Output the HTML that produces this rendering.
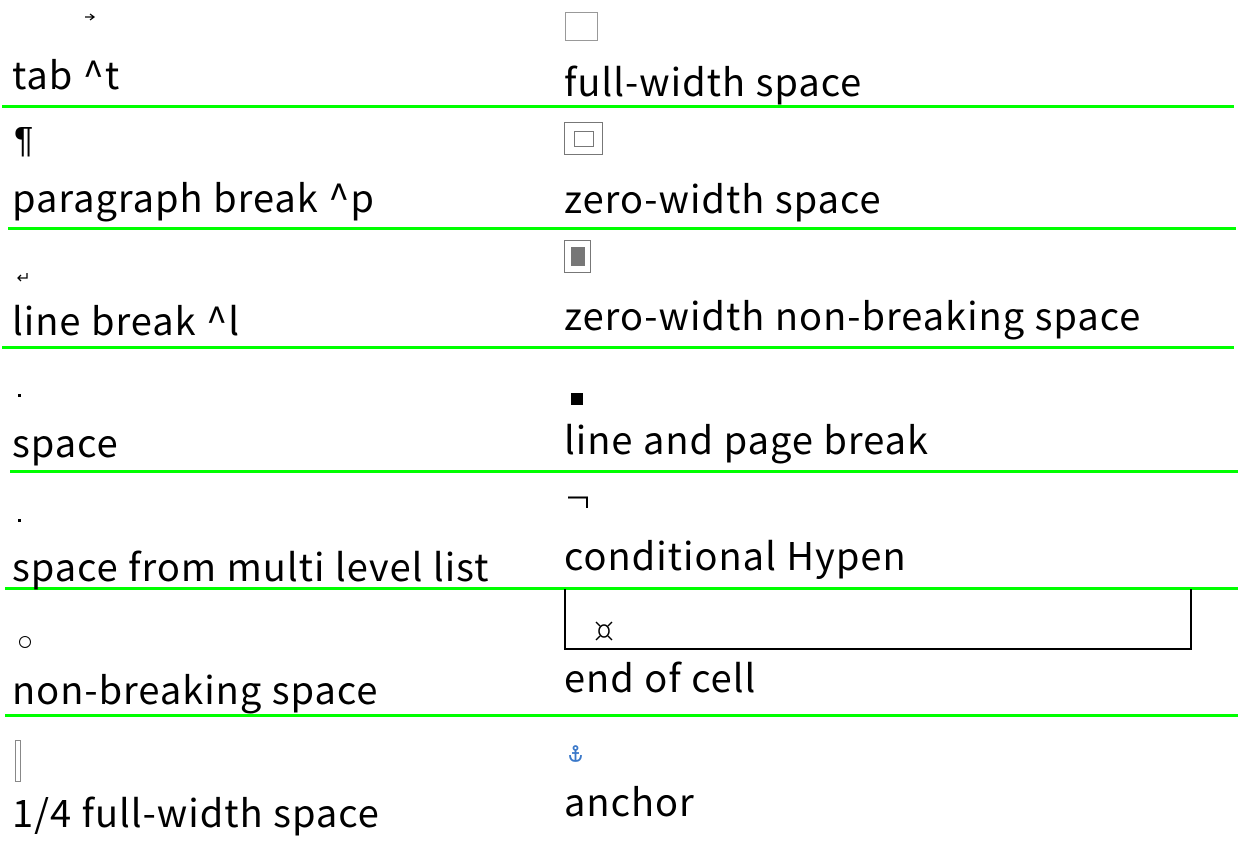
<!DOCTYPE html>
<html><head><meta charset="utf-8"><style>
body{margin:0;width:1256px;height:846px;background:#fff;position:relative;overflow:hidden;font-family:"Noto Sans CJK SC","Liberation Sans",sans-serif;color:#000}
.t{position:absolute;font-size:38px;letter-spacing:1px;line-height:1;white-space:nowrap}
.g{position:absolute;height:3px;background:#00ff00}
.a{position:absolute}
</style></head><body>
<div class="g" style="left:2px;top:105px;width:1232px"></div>
<div class="g" style="left:8px;top:227px;width:1228px"></div>
<div class="g" style="left:2px;top:346px;width:1232px"></div>
<div class="g" style="left:10px;top:470px;width:1228px"></div>
<div class="g" style="left:5px;top:587px;width:1233px"></div>
<div class="g" style="left:5px;top:714px;width:1233px"></div>

<div class="t" style="left:12px;top:54px">tab ^t</div>
<div class="t" style="left:12px;top:177px">paragraph break ^p</div>
<div class="t" style="left:12px;top:300px">line break ^l</div>
<div class="t" style="left:12px;top:422px">space</div>
<div class="t" style="left:12px;top:546px">space from multi level list</div>
<div class="t" style="left:12px;top:669px">non-breaking space</div>
<div class="t" style="left:12px;top:792px">1/4 full-width space</div>

<div class="t" style="left:564px;top:61px">full-width space</div>
<div class="t" style="left:564px;top:178px">zero-width space</div>
<div class="t" style="left:564px;top:295px">zero-width non-breaking space</div>
<div class="t" style="left:564px;top:419px">line and page break</div>
<div class="t" style="left:564px;top:535px">conditional Hypen</div>
<div class="t" style="left:564px;top:657px">end of cell</div>
<div class="t" style="left:564px;top:781px">anchor</div>

<svg class="a" style="left:84px;top:12px" width="12" height="10"><path d="M1 5H9M6 2L10 5L6 8" stroke="#000" stroke-width="1.3" fill="none"/></svg>
<div class="a" style="left:14px;top:122px;font-size:36px;line-height:1;font-family:'Liberation Sans',sans-serif">¶</div>
<svg class="a" style="left:16px;top:272px" width="14" height="12"><path d="M11 1V6H3M5 3L2 6L5 9" stroke="#000" stroke-width="1.3" fill="none"/></svg>
<div class="a" style="left:18px;top:394px;width:3px;height:3px;background:#000"></div>
<div class="a" style="left:18px;top:519px;width:3px;height:3px;background:#000"></div>
<div class="a" style="left:19px;top:636px;width:10px;height:10px;border:1.3px solid #000;border-radius:50%"></div>
<div class="a" style="left:15px;top:740px;width:4px;height:40px;border:1px solid #888"></div>

<div class="a" style="left:565px;top:12px;width:31px;height:27px;border:1px solid #999"></div>
<div class="a" style="left:564px;top:122px;width:37px;height:31px;border:1px solid #777"></div>
<div class="a" style="left:574px;top:131px;width:18px;height:14px;border:1px solid #777"></div>
<div class="a" style="left:564px;top:240px;width:25px;height:31px;border:1px solid #777"></div>
<div class="a" style="left:571px;top:247px;width:14px;height:19px;background:#777"></div>
<div class="a" style="left:571px;top:393px;width:12px;height:12px;background:#000"></div>
<svg class="a" style="left:567px;top:496px" width="22" height="13"><path d="M1 1.5H20V12" stroke="#000" stroke-width="2" fill="none"/></svg>
<div class="a" style="left:564px;top:589px;width:624px;height:59px;border:2px solid #000;border-top:none"></div>
<svg class="a" style="left:595px;top:621px" width="18" height="20"><g stroke="#000" stroke-width="1.5" fill="none"><ellipse cx="9" cy="10" rx="5" ry="6"/><path d="M1 1L5 5M17 1L13 5M1 19L5 15M17 19L13 15"/></g></svg>
<svg class="a" style="left:568px;top:745px" width="15" height="18"><g stroke="#3a78c9" stroke-width="1.8" fill="none"><circle cx="7.5" cy="3" r="2"/><path d="M7.5 5V16M2 10Q2 16 7.5 16Q13 16 13 10M4 8H11"/></g></svg>
</body></html>
